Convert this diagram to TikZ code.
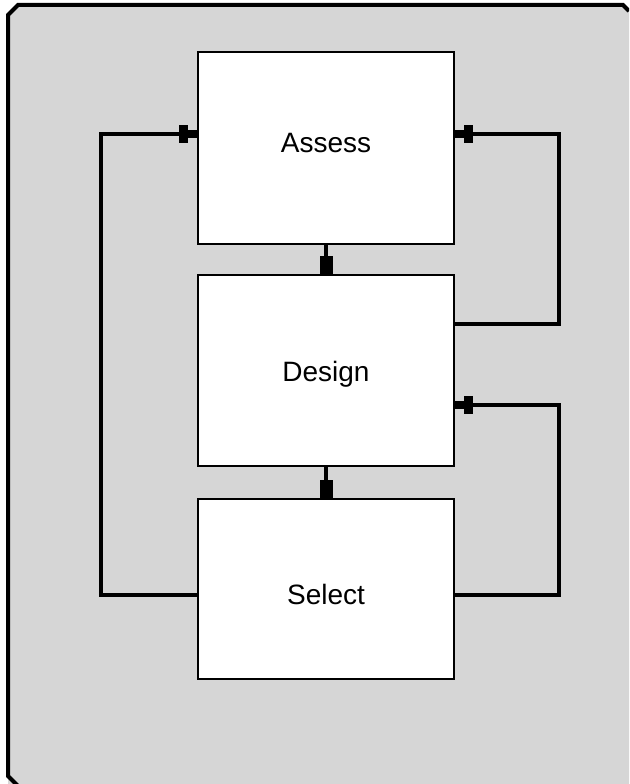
\documentclass[tikz,border=0pt]{standalone}
\usepackage{fontspec}
\setmainfont{Liberation Sans}
\usetikzlibrary{arrows.meta}
\definecolor{panel}{RGB}{214,214,214}
\tikzset{
  stagebox/.style={draw=black, fill=white, line width=1.5pt, minimum width=192pt, font=\fontsize{21pt}{25pt}\selectfont, inner sep=0pt},
  link/.style={draw=black, line width=3.4pt},
  downtip/.style={-{Rectangle[length=13.5pt,width=9.75pt]}},
  sidetip/.style={-{Rectangle[length=6.75pt,width=13pt] Rectangle[length=7pt,width=5.4pt]}},
  panelline/.style={draw=black, line width=3pt},
}
\begin{document}
\begin{tikzpicture}[x=0.75pt,y=-0.75pt]
\useasboundingbox (0,0) rectangle (629,784);
\clip (0,0) rectangle (629,784);
% panel
\fill[panel] (8,15) -- (18,5) -- (623,5) -- (640,22) -- (640,800) -- (8,800) -- cycle;
\draw[panelline] (629,11) -- (623,5) -- (18,5) -- (8,15) -- (8,776) -- (18,786) -- (629,786);
% stages
\node[stagebox, minimum height=144pt] (assess) at (326,148) {\raisebox{-3.75pt}[0pt][0pt]{Assess}};
\node[stagebox, minimum height=143.25pt] (design) at (326,370.5) {\raisebox{-8.6pt}[0pt][0pt]{Design}};
\node[stagebox, minimum height=135pt] (select) at (326,589) {\raisebox{-11.25pt}[0pt][0pt]{Select}};
% turning points
\coordinate (l1) at (101,595);
\coordinate (l2) at (101,134);
\coordinate (r1) at (559,324);
\coordinate (r2) at (559,134);
\coordinate (r3) at (559,595);
\coordinate (r4) at (559,405);
% connectors
\draw[link, downtip] (assess.south) -- (design.north);
\draw[link, downtip] (design.south) -- (select.north);
\draw[link, sidetip] (select.west |- l1) -- (l1) -- (l2) -- (assess.west |- l2);
\draw[link, sidetip] (design.east |- r1) -- (r1) -- (r2) -- (assess.east |- r2);
\draw[link, sidetip] (select.east |- r3) -- (r3) -- (r4) -- (design.east |- r4);
\end{tikzpicture}
\end{document}
